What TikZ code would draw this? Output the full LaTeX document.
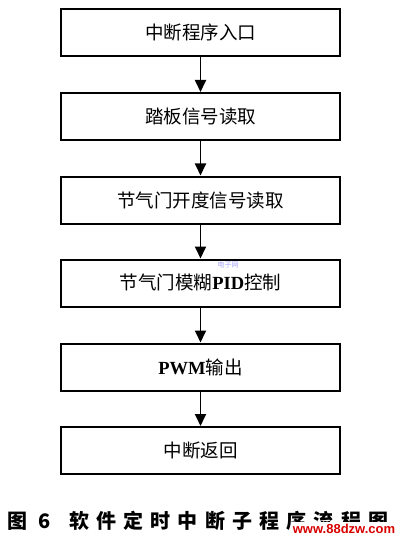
\documentclass[tikz,border=0pt]{standalone}
\usepackage{fontspec}
\usetikzlibrary{arrows.meta}
\setmainfont{Liberation Serif}
\newfontfamily\cjk{Noto Sans CJK SC}
\newfontfamily\capfont[LetterSpace=36]{Noto Sans CJK SC}
\newfontfamily\wmfont{Liberation Sans}
\newcommand{\lat}[1]{{\rmfamily\bfseries #1}}
\begin{document}
\begin{tikzpicture}[x=1pt,y=-1pt,
  stepbox/.style={draw=black, line width=2pt, minimum width=279pt, minimum height=47pt,
     inner sep=0pt, font=\cjk\fontsize{18.5}{20}\selectfont},
  flow/.style={line width=1.8pt, -{Triangle[width=11pt,length=12pt]}}]
\useasboundingbox[fill=white] (0,0) rectangle (405,540);
\node[stepbox] (b1) at (200.5,32.5) {中断程序入口};
\node[stepbox] (b2) at (200.5,116.5) {踏板信号读取};
\node[stepbox] (b3) at (200.5,200) {节气门开度信号读取};
\node[stepbox] (b4) at (200.5,283) {节气门模糊\lat{PID}控制};
\node[stepbox] (b5) at (200.5,367) {\lat{PWM}输出};
\node[stepbox] (b6) at (200.5,450.5) {中断返回};
\foreach \a/\b in {b1/b2,b2/b3,b3/b4,b4/b5,b5/b6}
  \draw[flow] (\a.south) -- (\b.north);
\node[text=blue!35, font=\cjk\fontsize{7}{8}\selectfont] (wm1) at (228,265) {电子网};
\node[anchor=west, inner sep=0pt, font=\capfont\bfseries\fontsize{20}{22}\selectfont] (cap) at (7,521) {图 6\hspace{18pt}软件定时中断子程序流程图};
\node[fill=white, inner sep=2pt, text=red!85!black, font=\wmfont\bfseries\fontsize{13}{14}\selectfont] (wm2) at (344,529) {www.88dzw.com};
\end{tikzpicture}
\end{document}
